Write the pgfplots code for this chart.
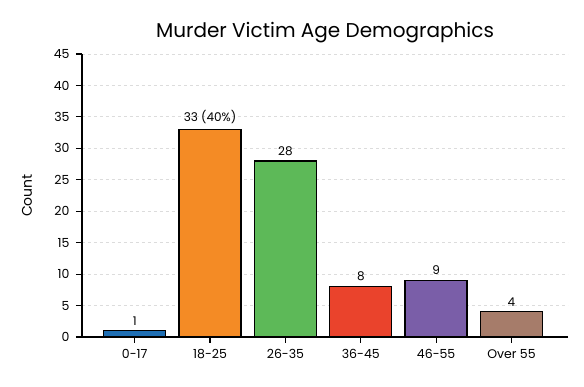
\documentclass[border=0pt]{standalone}
\usepackage{pgfplots}
\pgfplotsset{compat=1.18}
\usepackage{fontspec}
\setmainfont{Poppins}
\definecolor{cBlue}{HTML}{1F6FB4}
\definecolor{cOrange}{HTML}{F48B25}
\definecolor{cGreen}{HTML}{5DB958}
\definecolor{cRed}{HTML}{EA432C}
\definecolor{cPurple}{HTML}{7A5EA8}
\definecolor{cBrown}{HTML}{A67C6A}
\definecolor{gridc}{HTML}{DCDCDC}
\begin{document}
\begin{tikzpicture}[x=1pt,y=1pt]
\begin{axis}[
  scale only axis,
  width=486pt, height=283pt,
  xmin=-0.7, xmax=5.75,
  ymin=0, ymax=45,
  ytick={0,5,...,45},
  xtick={0,1,2,3,4,5},
  xticklabels={0-17,18-25,26-35,36-45,46-55,Over 55},
  axis x line*=bottom, axis y line*=left,
  axis line style={line width=1.4pt, black, -},
  tick style={line width=1.2pt, black},
  tick align=outside,
  major tick length=6pt,
  ymajorgrids,
  grid style={dashed, gridc, line width=0.8pt},
  ticklabel style={font=\fontsize{12.5}{14}\selectfont},
  yticklabel style={xshift=-3pt},
  xticklabel style={yshift=-3pt},
  /pgf/number format/assume math mode=true,
  ylabel={Count},
  ylabel style={font=\fontsize{14}{16}\selectfont, at={(axis description cs:-0.113,0.5)}, anchor=center},
  title={Murder Victim Age Demographics},
  title style={font=\fontsize{20}{23}\selectfont, yshift=2pt},
  ybar, bar width=62pt, bar shift=0pt,
  nodes near coords,
  point meta=explicit symbolic,
  every node near coord/.append style={font=\fontsize{12}{14}\selectfont, black, yshift=1.5pt},
  clip=false,
]
\addplot[fill=cBlue, draw=black, line width=1.3pt] coordinates {(0,1) [1]};
\addplot[fill=cOrange, draw=black, line width=1.3pt] coordinates {(1,33) [33 (40\%)]};
\addplot[fill=cGreen, draw=black, line width=1.3pt] coordinates {(2,28) [28]};
\addplot[fill=cRed, draw=black, line width=1.3pt] coordinates {(3,8) [8]};
\addplot[fill=cPurple, draw=black, line width=1.3pt] coordinates {(4,9) [9]};
\addplot[fill=cBrown, draw=black, line width=1.3pt] coordinates {(5,4) [4]};
\end{axis}
\path[use as bounding box] (-82,-50) rectangle (502,337);
\end{tikzpicture}
\end{document}
